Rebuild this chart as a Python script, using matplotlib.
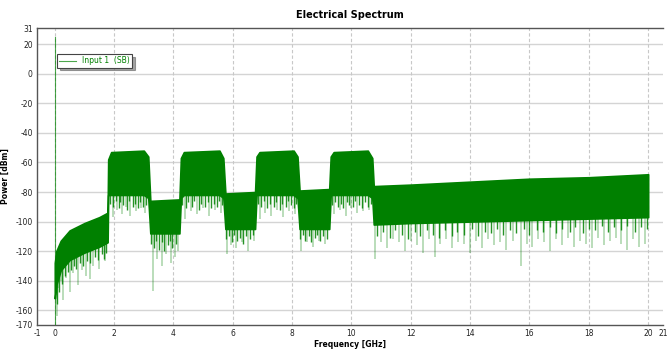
import matplotlib.pyplot as plt

# --- Data (frequency in GHz, power in dBm) ---
# dense part of the trace: upper and lower envelope
env_freq = [0.0, 0.05, 0.2, 0.5, 1.0, 1.5, 1.78,
            1.80, 1.9, 3.0, 3.15,
            3.22, 4.2,
            4.25, 4.35, 5.55, 5.68,
            5.75, 6.75,
            6.80, 6.9, 8.05, 8.18,
            8.25, 9.25,
            9.30, 9.4, 10.55, 10.70,
            10.75, 12.0, 14.0, 16.0, 18.0, 20.0]
env_top = [-128, -120, -113, -106, -101, -97, -94,
           -58, -53, -52, -56,
           -86, -85,
           -57, -53, -52, -57,
           -81, -80,
           -56, -53, -52, -56,
           -79, -78,
           -56, -53, -52, -57,
           -76, -75, -73, -71, -70, -68]
env_bot = [-152, -143, -133, -126, -121, -117, -114,
           -82, -82, -82, -84,
           -108, -108,
           -84, -82, -82, -84,
           -105, -105,
           -82, -82, -82, -84,
           -105, -105,
           -82, -82, -82, -84,
           -102, -101, -100, -99, -98, -97]

# short dark spikes just under the dense band: (frequency, lowest value)
dark_freq = [0.08, 0.15, 0.25, 0.35, 0.45, 0.55, 0.65, 0.72, 0.85, 0.95, 1.08, 1.2, 1.35, 1.45, 1.58, 1.65, 1.74,
             1.85, 1.95, 2.05, 2.15, 2.2, 2.3, 2.45, 2.5, 2.62, 2.7, 2.8, 2.88, 2.98, 3.08,
             3.25, 3.35, 3.42, 3.52, 3.6, 3.68, 3.8, 3.88, 3.95, 4.1,
             4.3, 4.42, 4.5, 4.62, 4.7, 4.85, 4.92, 5.05, 5.15, 5.28, 5.35, 5.48, 5.55, 5.64,
             5.78, 5.88, 5.98, 6.05, 6.15, 6.25, 6.35, 6.45, 6.58, 6.68,
             6.85, 6.95, 7.05, 7.15, 7.25, 7.38, 7.45, 7.58, 7.65, 7.78, 7.85, 7.95, 8.05, 8.14,
             8.28, 8.38, 8.45, 8.58, 8.65, 8.78, 8.85, 8.95, 9.05, 9.18,
             9.35, 9.45, 9.55, 9.65, 9.72, 9.85, 9.92, 10.05, 10.12, 10.25, 10.35, 10.45, 10.55, 10.65,
             10.85, 11.05, 11.3, 11.45, 11.7, 11.9, 12.15, 12.3, 12.55, 12.75, 12.95, 13.15, 13.4, 13.55,
             13.8, 14.05, 14.25, 14.5, 14.7, 14.9, 15.1, 15.35, 15.55, 15.8, 16.0, 16.25, 16.45, 16.7,
             16.9, 17.1, 17.35, 17.55, 17.8, 18.0, 18.2, 18.45, 18.65, 18.85, 19.1, 19.3, 19.55, 19.75, 19.95]
dark_low = [-156, -148, -142, -137, -134, -133, -130, -132, -128, -130, -127, -128, -124, -126, -122, -125, -121,
            -88, -90, -86, -91, -87, -89, -92, -86, -90, -88, -91, -87, -90, -89,
            -115, -118, -113, -119, -114, -120, -116, -113, -118, -115,
            -89, -91, -87, -90, -86, -92, -88, -90, -87, -91, -88, -90, -86, -89,
            -112, -110, -114, -109, -113, -111, -115, -110, -112, -109,
            -88, -90, -86, -91, -88, -90, -87, -92, -88, -90, -86, -89, -91, -88,
            -112, -109, -113, -110, -114, -111, -109, -113, -110, -112,
            -89, -87, -90, -88, -91, -87, -89, -90, -86, -89, -91, -87, -90, -88,
            -110, -107, -111, -106, -109, -112, -107, -110, -106, -109, -111, -106, -110, -107,
            -109, -105, -110, -107, -108, -105, -109, -106, -108, -105, -109, -106, -107, -104,
            -108, -105, -107, -104, -108, -105, -106, -103, -107, -104, -106, -103, -107, -104, -105]

# long light spikes: (frequency, lowest value)
spike_freq = [0.03, 0.06, 0.12, 0.2, 0.28, 0.38, 0.5, 0.62, 0.78, 0.93, 1.05, 1.17, 1.3, 1.5, 1.68,
              1.95, 2.1, 2.25, 2.4, 2.55, 2.75, 2.9, 3.05,
              3.3, 3.45, 3.6, 3.75, 3.9, 4.05, 4.15,
              4.4, 4.6, 4.8, 5.0, 5.2, 5.4, 5.6,
              5.8, 5.95, 6.1, 6.3, 6.5, 6.7,
              6.9, 7.1, 7.3, 7.5, 7.7, 7.9, 8.1,
              8.3, 8.5, 8.7, 8.9, 9.1,
              9.4, 9.6, 9.8, 10.0, 10.2, 10.4, 10.6,
              10.8, 11.0, 11.2, 11.4, 11.6, 11.8, 12.0, 12.2, 12.4, 12.6, 12.8, 13.0, 13.2, 13.4, 13.6,
              13.8, 14.0, 14.2, 14.4, 14.6, 14.8, 15.0, 15.2, 15.45, 15.7, 15.9, 16.1, 16.3, 16.5, 16.7,
              16.9, 17.1, 17.3, 17.5, 17.7, 17.9, 18.1, 18.3, 18.5, 18.7, 18.9, 19.1, 19.3, 19.5, 19.7, 19.9]
spike_low = [-150, -164, -145, -140, -153, -138, -148, -135, -143, -133, -137, -139, -130, -132, -127,
             -97, -92, -95, -90, -96, -93, -91, -94,
             -147, -125, -130, -122, -128, -124, -120,
             -98, -93, -95, -91, -96, -92, -94,
             -122, -116, -118, -114, -120, -113,
             -98, -94, -96, -92, -97, -93, -95,
             -120, -114, -117, -113, -115,
             -95, -92, -96, -91, -94, -93, -92,
             -125, -114, -118, -112, -114, -120, -113, -116, -121, -112, -124, -115, -112, -118, -114,
             -115, -121, -113, -118, -112, -116, -114, -119, -113, -130, -115, -117, -112, -114, -120,
             -112, -116, -111, -117, -113, -115, -118, -111, -116, -113, -111, -115, -119, -112, -117, -115]

dc_freq = 0.0
dc_peak = 25

x_ticks = [0, 2, 4, 6, 8, 10, 12, 14, 16, 18, 20]
y_ticks = [-160, -140, -120, -100, -80, -60, -40, -20, 0, 20]
x_edges = (-0.6, 20.5)
y_edges = (-170, 31)

TRACE = '#008000'


def band_bottom(f):
    # dense lower bound at frequency f, from the envelope arrays
    for i in range(len(env_freq) - 1):
        if env_freq[i] <= f <= env_freq[i + 1]:
            f0, f1 = env_freq[i], env_freq[i + 1]
            if f1 == f0:
                return env_bot[i]
            t = (f - f0) / (f1 - f0)
            return env_bot[i] + t * (env_bot[i + 1] - env_bot[i])
    return env_bot[-1]


fig = plt.figure(figsize=(6.67, 3.49), dpi=100)
ax = fig.add_axes([37 / 667, 1 - 325 / 349, 626 / 667, 297 / 349])

# grid
for y in y_ticks:
    ax.axhline(y, color='#d4d4d4', lw=1.0, zorder=0)
for x in x_ticks:
    ax.axvline(x, color='#c8c8c8', lw=0.8, ls=(0, (3, 2)), zorder=0)

# spikes first, dense band on top
ax.vlines(spike_freq, spike_low, [band_bottom(f) + 2 for f in spike_freq],
          color=TRACE, alpha=0.35, lw=1.1, zorder=2)
ax.vlines(dark_freq, dark_low, [band_bottom(f) + 2 for f in dark_freq],
          color=TRACE, alpha=0.85, lw=1.0, zorder=3)
ax.fill_between(env_freq, env_bot, env_top, color=TRACE, lw=1.2, edgecolor=TRACE, zorder=3)
ax.plot([dc_freq, dc_freq], [y_edges[0], dc_peak], color=TRACE, lw=0.8, alpha=0.7, zorder=3,
        label='Input 1  (SB)')

ax.set_xlim(*x_edges)
ax.set_ylim(*y_edges)
ax.set_xticks([x_edges[0]] + x_ticks + [x_edges[1]])
ax.set_xticklabels(['-1'] + [str(v) for v in x_ticks] + ['21'])
ax.set_yticks([y_edges[0]] + y_ticks + [y_edges[1]])
ax.set_yticklabels([str(v) for v in [y_edges[0]] + y_ticks + [y_edges[1]]])
ax.tick_params(length=0, labelsize=5.5, colors='#222222', pad=3)

for side in ['left', 'bottom', 'top']:
    ax.spines[side].set_color('#555555')
    ax.spines[side].set_linewidth(1.0)
ax.spines['right'].set_visible(False)

ax.set_xlabel('Frequency [GHz]', fontsize=5.5, fontweight='bold', labelpad=1)
ax.set_ylabel('Power [dBm]', fontsize=5.5, fontweight='bold', labelpad=4)
fig.text(350 / 667, 1 - 15 / 349, 'Electrical Spectrum', ha='center', va='center',
         fontsize=7, fontweight='bold')

leg = ax.legend(loc='upper left', bbox_to_anchor=(0.026, 0.925), fontsize=5.5,
                frameon=True, fancybox=False, shadow=True, handlelength=2.2,
                borderpad=0.3, labelcolor=TRACE)
leg.get_frame().set_edgecolor('#444444')
leg.get_frame().set_linewidth(0.8)

fig.savefig('out.png', dpi=100)
